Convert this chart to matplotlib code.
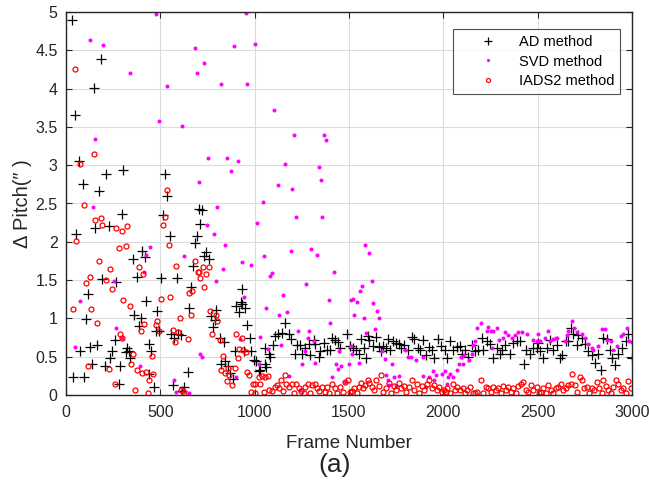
import matplotlib
matplotlib.use("Agg")
import matplotlib.pyplot as plt

plt.rcParams['font.family'] = ['Liberation Sans', 'DejaVu Sans']

# ---------------- data ----------------
ad_frame = [30, 37, 49, 55, 67, 76, 88, 97, 106, 115, 129, 138, 147, 154, 166, 173, 187, 191,
            205, 212, 226, 235, 245, 260, 267, 279, 288, 297, 304, 318, 323, 332, 341, 355,
            362, 378, 385, 397, 403, 417, 424, 438, 441, 452, 465, 477, 482, 494, 501,
            512, 526, 534, 549, 558, 567, 572, 588, 593, 607, 614, 625, 647, 653, 664, 671,
            682, 692, 703, 710, 721, 731, 744, 756, 768, 779, 788, 797, 814, 823, 837, 841,
            858, 867, 885, 894, 901, 915, 926, 932, 934, 946, 950, 961, 975, 982, 995,
            1007, 1025, 1030, 1053, 1056, 1059, 1074, 1082, 1095, 1109, 1123, 1145, 1162,
            1180, 1194, 1215, 1224, 1242, 1251, 1268, 1290, 1295, 1312, 1321, 1339, 1348,
            1365, 1383, 1400, 1410, 1424, 1441, 1453, 1490, 1505,
            1519, 1537, 1555, 1563, 1580, 1590, 1599, 1607, 1625, 1643, 1661, 1670, 1682,
            1696, 1705, 1717, 1731, 1749, 1767, 1775, 1793, 1811, 1834, 1846, 1864, 1876,
            1893, 1908, 1922, 1940, 1952, 1970, 1990, 2007,
            2017, 2035, 2053, 2071, 2088, 2097, 2115, 2132, 2150, 2168, 2185, 2203, 2212,
            2229, 2247, 2265, 2282, 2300, 2309, 2327, 2353, 2371, 2388, 2406, 2428, 2438,
            2459, 2477, 2494, 2503, 2512, 2530, 2548, 2565, 2583, 2601, 2618, 2630, 2648,
            2662, 2679, 2688, 2706, 2715, 2733, 2750, 2768, 2786, 2803, 2821, 2836, 2848,
            2866, 2883, 2896, 2910, 2928, 2949, 2967, 2981, 2999]
ad_value = [4.90, 0.23, 3.65, 2.10, 3.05, 0.57, 2.75, 0.23, 0.99, 1.32, 0.63, 0.40, 4.01, 2.18,
            0.65, 2.66, 4.39, 1.51, 0.38, 2.88, 2.21, 0.48, 0.57, 0.72, 1.47, 0.14, 0.38, 2.36,
            2.94, 0.56, 0.62, 0.57, 0.48, 1.78, 1.04, 1.54, 0.90, 1.00, 1.88, 1.80, 1.23, 0.67,
            0.28, 0.57, 0.10, 0.84, 1.10, 0.83, 1.53,
            2.35, 2.88, 2.60, 2.07, 0.80, 0.13, 0.74, 1.53, 0.80, 0.78, 0.05, 0.10, 0.30, 1.13,
            1.41, 1.69, 1.98, 2.08, 2.43, 2.23, 2.41, 1.82, 1.87, 1.78, 1.03, 0.89, 0.98, 1.11,
            0.75, 0.40, 0.69, 0.44, 0.38, 0.29, 0.21, 0.57, 1.16, 1.08, 1.21, 1.19, 1.38, 0.57,
            1.13, 0.91, 0.74, 0.57, 0.46,
            0.44, 0.31, 0.33, 0.41, 0.61, 0.36, 0.54, 0.50, 0.65, 0.77, 0.79, 0.81, 0.94, 0.79,
            0.73, 0.54, 0.65, 0.65, 0.54, 0.61, 0.66, 0.52, 0.72, 0.66, 0.50, 0.57, 0.68, 0.59,
            0.59, 0.75, 0.72, 0.69, 0.61, 0.80, 0.64,
            0.61, 0.59, 0.54, 0.73, 0.62, 0.48, 0.77, 0.72, 0.64, 0.76, 0.63, 0.57, 0.64, 0.61,
            0.73, 0.59, 0.70, 0.68, 0.67, 0.62, 0.65, 0.59, 0.76, 0.73, 0.62, 0.59, 0.72, 0.52,
            0.63, 0.59, 0.48, 0.73, 0.64, 0.59,
            0.48, 0.70, 0.59, 0.63, 0.64, 0.54, 0.59, 0.50, 0.65, 0.57, 0.59, 0.75, 0.59, 0.70,
            0.67, 0.48, 0.62, 0.54, 0.59, 0.65, 0.54, 0.68, 0.70, 0.71, 0.41, 0.59, 0.53, 0.62,
            0.62, 0.68, 0.58, 0.48, 0.61, 0.72, 0.59, 0.65, 0.48, 0.52, 0.71, 0.70, 0.87, 0.80,
            0.65, 0.78, 0.75, 0.67, 0.57, 0.52, 0.42, 0.54, 0.33, 0.75, 0.73, 0.59, 0.48, 0.39,
            0.53, 0.61, 0.71, 0.80, 0.48]

svd_frame = [46, 76, 125, 145, 155, 194, 256, 265, 297, 341, 394, 413, 424, 443, 475, 493,
             534, 574, 584, 613, 625, 653, 684, 694, 703, 712, 722, 733, 746, 753, 783, 793,
             802, 823, 831, 843, 851, 873, 892, 903, 911, 922, 931, 943, 952, 961, 981, 1001,
             1011, 1021, 1030, 1042, 1051, 1062, 1070, 1083, 1092, 1101, 1122, 1130, 1141,
             1150, 1161, 1171, 1180, 1192, 1199, 1210, 1221, 1229, 1242, 1251, 1268, 1270,
             1281, 1290, 1300, 1312, 1321, 1330, 1341, 1350, 1358, 1369, 1380, 1392, 1401,
             1410, 1420, 1431, 1441, 1448, 1459, 1480, 1501, 1510, 1512, 1515, 1519, 1528,
             1540, 1551, 1560, 1567, 1581, 1585, 1590, 1606, 1620, 1629, 1639, 1648, 1659,
             1675, 1693, 1696, 1705, 1714, 1728, 1740, 1749, 1767, 1798, 1811, 1828, 1855,
             1890, 1893, 1908, 1922, 1943, 1952, 1961, 1991, 2010, 2021, 2026, 2035, 2053,
             2070, 2085, 2091, 2102, 2109, 2137, 2153, 2159, 2168, 2180, 2198, 2229, 2235,
             2251, 2256, 2265, 2286, 2297, 2317, 2326, 2344, 2362, 2379, 2397, 2415, 2445,
             2473, 2494, 2503, 2512, 2538, 2556, 2565, 2583, 2596, 2605, 2644, 2653, 2662,
             2683, 2694, 2706, 2733, 2750, 2768, 2786, 2795, 2821, 2842, 2856, 2870, 2888,
             2900, 2918, 2941, 2953, 2971, 2984, 2999]
svd_value = [0.63, 1.23, 4.64, 2.45, 3.34, 4.57, 1.49, 0.88, 0.74, 4.21, 0.38, 1.61, 1.83, 1.93,
             4.97, 3.58, 4.03, 0.20, 0.04, 3.51, 1.81, 0.03, 4.53, 4.21, 2.78, 0.53, 0.50, 4.34,
             2.22, 3.09, 2.10, 1.49, 2.46, 4.06, 1.65, 1.96, 3.09, 2.93, 4.55, 0.24, 3.06, 0.73,
             1.74, 1.28, 4.99, 4.06, 1.70, 4.58,
             2.24, 0.40, 0.76, 2.52, 1.81, 1.14, 0.60, 1.55, 1.59, 3.72, 2.74, 1.04, 0.65,
             1.31, 3.01, 1.08, 0.25, 1.88, 2.69, 3.39, 2.33, 0.83, 0.06, 0.40, 0.58, 1.45,
             0.74, 0.84, 1.91, 0.70, 0.42, 1.83, 2.97, 2.81, 2.32, 3.39, 3.33, 1.24, 0.94,
             0.23, 1.61, 0.40, 0.34, 0.58, 0.38, 0.17, 0.41, 0.64, 1.24, 0.53, 1.25, 1.05,
             1.21, 0.42, 1.36, 1.42, 1.01, 1.96, 0.81, 1.85, 1.49, 1.20, 0.86, 1.10, 1.01,
             0.57, 0.47, 0.26, 0.19, 0.13, 0.40, 0.23, 0.12, 0.25, 0.59, 0.49, 0.49, 0.46,
             0.50, 0.25, 0.11, 0.24, 0.31, 0.20, 0.26, 0.28, 0.31, 0.15, 0.24, 0.27, 0.24,
             0.33, 0.40, 0.49, 0.40, 0.52, 0.46, 0.54, 0.65, 0.70, 0.87, 0.94, 0.83, 0.89,
             0.83, 0.62, 0.84, 0.87, 0.72, 0.74, 0.82, 0.78, 0.74, 0.78, 0.82, 0.82, 0.79,
             0.72, 0.71, 0.79, 0.71, 0.75, 0.83, 0.70, 0.73, 0.74, 0.75, 0.71, 0.78, 0.83,
             0.96, 0.87, 0.82, 0.79, 0.74, 0.67, 0.62, 0.59, 0.64, 0.86, 0.86, 0.72, 0.70,
             0.59, 0.64, 0.77, 0.79, 0.87, 0.70, 0.69]

iads_frame = [35, 49, 55, 76, 94, 108, 115, 127, 134, 147, 154, 166, 173, 187, 193, 212, 226,
              233, 244, 258, 265, 279, 284, 297, 299, 304, 318, 325, 337, 344, 355, 364, 376,
              385, 396, 403, 410, 415, 424, 434, 441, 456, 463, 477, 482, 492, 501,
              512, 527, 534, 548, 553, 567, 576, 585, 593, 606, 607, 620, 628, 645, 652, 664,
              670, 684, 697, 707, 710, 724, 730, 744, 756, 763, 775, 793, 802, 814, 823, 834,
              841, 855, 858, 862, 880, 894, 901, 913, 917, 932, 938, 952, 957, 968, 979, 993,
              1000, 1003, 1021, 1030, 1039, 1048, 1057, 1071, 1074, 1092, 1106, 1118, 1130,
              1141, 1150, 1159, 1166, 1183, 1198, 1210, 1221, 1233, 1246, 1259, 1268, 1282,
              1295, 1303, 1318, 1330, 1343, 1357, 1371, 1383, 1396, 1410, 1424, 1438, 1454,
              1466, 1480, 1494, 1507,
              1516, 1528, 1542, 1555, 1563, 1572, 1586, 1599, 1607, 1620, 1634, 1643, 1657,
              1670, 1682, 1696, 1710, 1723, 1737, 1749, 1763, 1775, 1789, 1802, 1816, 1834,
              1846, 1858, 1872, 1887, 1899, 1913, 1926, 1940, 1952, 1966, 1979, 1993, 2005,
              2014, 2021, 2035, 2049, 2062, 2074, 2088, 2102, 2115, 2128, 2141, 2155, 2168,
              2180, 2198, 2212, 2226, 2238, 2251, 2265, 2279, 2291, 2304, 2318, 2332, 2344,
              2357, 2371, 2385, 2397, 2410, 2424, 2438, 2450, 2463, 2477, 2495, 2509,
              2517, 2530, 2542, 2556, 2570, 2583, 2596, 2609, 2623, 2636, 2648, 2662, 2676,
              2683, 2697, 2711, 2724, 2733, 2747, 2759, 2772, 2786, 2800, 2812, 2825, 2839,
              2848, 2860, 2874, 2888, 2900, 2913, 2928, 2941, 2953, 2966, 2981, 2994]
iads_value = [1.12, 4.25, 2.01, 3.02, 2.48, 1.46, 0.38, 1.54, 1.12, 3.14, 2.28, 0.94, 1.75,
              2.31, 2.22, 1.50, 0.34, 1.64, 1.39, 0.14, 2.18, 1.92, 0.79, 0.74, 2.14, 1.24,
              1.95, 2.20, 1.16, 0.41, 0.54, 0.06, 0.33, 1.67, 0.83, 0.29, 1.58, 0.93, 0.30,
              0.03, 0.19, 0.51, 0.27, 0.91, 0.96, 0.83, 1.25,
              2.22, 2.32, 2.67, 1.96, 1.28, 0.85, 0.69, 1.69, 0.82, 1.01, 0.06, 0.05, 0.03,
              0.73, 1.33, 1.05, 1.36, 1.75, 1.61, 1.61, 1.53, 1.67, 1.41, 1.58, 1.67, 1.10,
              0.80, 1.04, 0.97, 0.72, 0.33, 0.51, 0.29, 0.18, 0.35, 0.26, 0.13, 0.35, 0.79,
              0.48, 0.60, 0.75, 0.59, 0.56, 0.30, 0.26, 0.04, 0.14,
              0.02, 0.14, 0.24, 0.14, 0.25, 0.04, 0.24, 0.25, 0.07, 0.05, 0.11, 0.13, 0.09,
              0.20, 0.05, 0.26, 0.14, 0.10, 0.14, 0.03, 0.14, 0.09, 0.05, 0.02, 0.10, 0.15,
              0.02, 0.13, 0.14, 0.09, 0.05, 0.10, 0.04, 0.11, 0.02, 0.14, 0.09, 0.02, 0.11,
              0.04, 0.17, 0.20, 0.04,
              0.05, 0.09, 0.02, 0.11, 0.16, 0.09, 0.13, 0.20, 0.16, 0.11, 0.06, 0.20, 0.12,
              0.26, 0.04, 0.09, 0.16, 0.02, 0.12, 0.07, 0.16, 0.09, 0.12, 0.04, 0.11, 0.20,
              0.07, 0.15, 0.02, 0.12, 0.06, 0.15, 0.19, 0.09, 0.13, 0.07, 0.11, 0.04, 0.07,
              0.04, 0.09, 0.03, 0.14, 0.07, 0.11, 0.06, 0.09, 0.02, 0.06, 0.11, 0.03, 0.02,
              0.04, 0.19, 0.02, 0.11, 0.09, 0.04, 0.11, 0.06, 0.09, 0.02, 0.12, 0.06, 0.11,
              0.04, 0.09, 0.03, 0.12, 0.15, 0.17, 0.07, 0.04, 0.13, 0.06, 0.11, 0.03,
              0.04, 0.09, 0.03, 0.13, 0.06, 0.03, 0.09, 0.11, 0.14, 0.06, 0.09, 0.13, 0.15,
              0.28, 0.13, 0.04, 0.24, 0.20, 0.09, 0.11, 0.03, 0.09, 0.06, 0.17, 0.09, 0.03,
              0.19, 0.12, 0.07, 0.03, 0.11, 0.20, 0.14, 0.06, 0.09, 0.03, 0.18, 0.09]

series_labels = ["AD method", "SVD method", "IADS2 method"]
x_ticks = [0, 500, 1000, 1500, 2000, 2500, 3000]
x_ticklabels = ["0", "500", "1000", "1500", "2000", "2500", "3000"]
y_ticks = [0, 0.5, 1, 1.5, 2, 2.5, 3, 3.5, 4, 4.5, 5]
y_ticklabels = ["0", "0.5", "1", "1.5", "2", "2.5", "3", "3.5", "4", "4.5", "5"]

# ---------------- figure ----------------
W, H = 649, 486
fig = plt.figure(figsize=(W / 100, H / 100), dpi=100)
ax = fig.add_axes([66 / W, 1 - 395 / H, 566 / W, 383 / H])

ax.plot(ad_frame, ad_value, linestyle='none', marker='+', color='black',
        markersize=6.5, markeredgewidth=0.9, label=series_labels[0])
ax.plot(svd_frame, svd_value, linestyle='none', marker='o', color='#ff00ff',
        markersize=2.9, markeredgewidth=0, label=series_labels[1])
ax.plot(iads_frame, iads_value, linestyle='none', marker='o', markerfacecolor='none',
        markeredgecolor='#ff0000', markersize=3.6, markeredgewidth=0.9,
        label=series_labels[2])

ax.set_xlim(0, 3000)
ax.set_ylim(0, 5)
ax.set_xticks(x_ticks)
ax.set_xticklabels(x_ticklabels)
ax.set_yticks(y_ticks)
ax.set_yticklabels(y_ticklabels)
ax.grid(True, color='#dcdcdc', linewidth=0.8)
ax.set_axisbelow(True)
ax.tick_params(direction='in', length=4, width=0.8, top=True, right=True,
               labelsize=11.5, colors='#262626')
ax.tick_params(axis='x', pad=7)
ax.tick_params(axis='y', pad=6)
for sp in ax.spines.values():
    sp.set_color('#262626')
    sp.set_linewidth(1.0)

ax.set_xlabel("Frame Number", fontsize=13.5, color='#262626', labelpad=11)
ax.set_ylabel("\u0394 Pitch(\u2033 )", fontsize=14.5, color='#262626')
ax.yaxis.set_label_coords(-0.060, 0.5)

leg = ax.legend(loc='upper right', bbox_to_anchor=(0.979, 0.956), borderaxespad=0,
                fancybox=False, frameon=True, edgecolor='#262626', fontsize=10.5,
                handlelength=4.0, handletextpad=0.1, borderpad=0.4, labelspacing=0.4,
                markerscale=0.8)
leg.get_frame().set_linewidth(0.8)

fig.text(335 / W, 1 - 465 / H, "(a)", fontsize=19, ha='center', va='center',
         color='#262626')

fig.savefig("out.png", dpi=100)
